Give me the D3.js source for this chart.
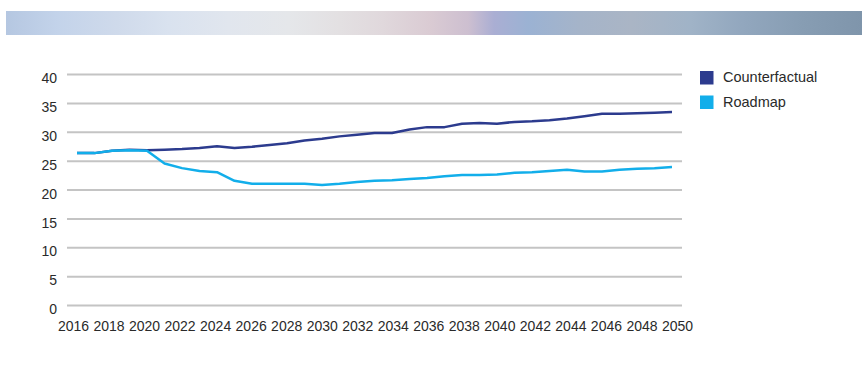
<!DOCTYPE html>
<html>
<head>
<meta charset="utf-8">
<script src="https://cdn.jsdelivr.net/npm/d3@7"></script>
<style>
  body { margin: 0; background: #fff; }
  svg { display: block; font-family: "Liberation Sans", Arial, sans-serif; }
</style>
</head>
<body>
<div id="chart"></div>
<script>
// data
const years = d3.range(2016, 2051)
const counterfactual = [26.3, 26.3, 26.7, 26.9, 26.8, 26.9, 27.0, 27.2, 27.5, 27.2,
    27.4, 27.7, 28.0, 28.5, 28.8, 29.2, 29.5, 29.8, 29.8, 30.4,
    30.8, 30.8, 31.4, 31.5, 31.4, 31.7, 31.8, 32.0, 32.3, 32.7,
    33.1, 33.1, 33.2, 33.3, 33.4]
const roadmap = [26.3, 26.3, 26.7, 26.8, 26.7, 24.5, 23.7, 23.2, 23.0, 21.5,
    21.0, 21.0, 21.0, 21.0, 20.8, 21.0, 21.3, 21.5, 21.6, 21.8,
    22.0, 22.3, 22.5, 22.5, 22.6, 22.9, 23.0, 23.2, 23.4, 23.1,
    23.1, 23.4, 23.6, 23.7, 23.9]
const yTicks = [0, 5, 10, 15, 20, 25, 30, 35, 40]
const xTicks = years.filter(d => d % 2 === 0)
const seriesNames = ["Counterfactual", "Roadmap"]
const seriesColors = ["#2c3b8e", "#12aeea"]

const width = 862
const height = 365

const svg = d3.select("#chart")
    .append("svg")
    .attr("width", width)
    .attr("height", height)

// decorative banner at the top
const bannerStops = [
    [0, "#b5c7e1"], [0.06, "#c3d3ea"], [0.13, "#cfdaeb"], [0.19, "#d9e2ef"],
    [0.26, "#e1e6ee"], [0.33, "#e5e7ea"], [0.39, "#e3e0e2"], [0.44, "#e0d8dc"],
    [0.495, "#dacbd3"], [0.54, "#cdbfd0"], [0.57, "#aaaed3"], [0.61, "#9bb2d3"],
    [0.67, "#a5b4c9"], [0.73, "#aab5c5"], [0.80, "#a0b3c7"], [0.86, "#92a7be"],
    [0.93, "#879db3"], [1, "#7f95ab"]
]
const grad = svg.append("defs").append("linearGradient")
    .attr("id", "banner")
grad.selectAll("stop")
    .data(bannerStops)
    .join("stop")
    .attr("offset", d => d[0])
    .attr("stop-color", d => d[1])

svg.append("rect")
    .attr("x", 6)
    .attr("y", 11)
    .attr("width", width - 6)
    .attr("height", 24)
    .attr("fill", "url(#banner)")

const x = d3.scalePoint()
    .domain(years)
    .range([77, 672])

// category labels sit a little wider than the points
const xLabel = d3.scalePoint()
    .domain(years)
    .range([73, 677])

const y = d3.scaleLinear()
    .domain([0, 40])
    .range([305, 74])

// gridlines + y labels
const yAxis = svg.append("g")
    .attr("transform", "translate(67,0)")
    .call(d3.axisLeft(y).tickValues(yTicks).tickSize(-615).tickPadding(10))
yAxis.select(".domain").remove()
yAxis.selectAll(".tick line")
    .attr("stroke", "#c4c4c4")
    .attr("stroke-width", 2)
yAxis.selectAll(".tick text")
    .attr("fill", "#2a2a2a")
    .attr("font-size", 14)
    .attr("dy", "0.62em")

// x labels
const xAxis = svg.append("g")
    .attr("transform", "translate(0,321)")
    .call(d3.axisBottom(xLabel).tickValues(xTicks).tickSize(0).tickPadding(0))
xAxis.select(".domain").remove()
xAxis.selectAll(".tick text")
    .attr("fill", "#2a2a2a")
    .attr("font-size", 14)
    .attr("dy", "0.71em")

const line = d3.line()
    .x((d, i) => x(years[i]))
    .y(d => y(d))

svg.append("g")
    .selectAll("path")
    .data([counterfactual, roadmap])
    .join("path")
    .attr("fill", "none")
    .attr("stroke", (d, i) => seriesColors[i])
    .attr("stroke-width", 2.5)
    .attr("stroke-linejoin", "round")
    .attr("d", line)

// legend
const legend = svg.append("g")
    .selectAll("g")
    .data(seriesNames)
    .join("g")
    .attr("transform", (d, i) => `translate(700,${71 + i * 24.5})`)

legend.append("rect")
    .attr("width", 13.5)
    .attr("height", 13.5)
    .attr("fill", (d, i) => seriesColors[i])

legend.append("text")
    .attr("x", 23)
    .attr("y", 11)
    .attr("font-size", 14.5)
    .attr("fill", "#2a2a2a")
    .text(d => d)
</script>
</body>
</html>
